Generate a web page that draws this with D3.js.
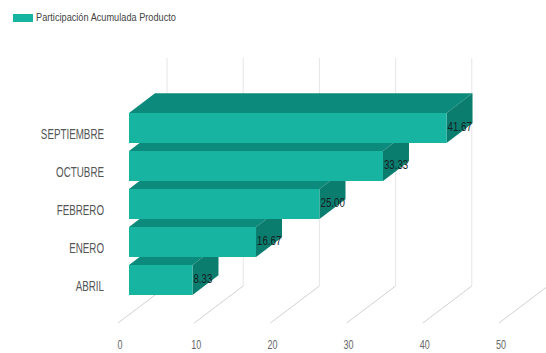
<!DOCTYPE html>
<html>
<head>
<meta charset="utf-8">
<script src="https://cdn.jsdelivr.net/npm/d3@7/dist/d3.min.js"></script>
<style>
  html, body { margin: 0; padding: 0; background: #fff; }
  svg { display: block; }
  text { font-family: "Liberation Sans", Arial, sans-serif; }
</style>
</head>
<body>
<svg id="chart" width="546" height="353"></svg>
<script>
// Data
const categories = ["SEPTIEMBRE", "OCTUBRE", "FEBRERO", "ENERO", "ABRIL"];
const values = [41.67, 33.33, 25.00, 16.67, 8.33];
const valueLabels = ["41.67", "33.33", "25.00", "16.67", "8.33"];
const ticks = [0, 10, 20, 30, 40, 50];
const seriesName = "Participación Acumulada Producto";

const svg = d3.select("#chart");

// Colours
const cFront = "#17b4a2";
const cTop = "#0c8a7b";
const cSide = "#0a7d6f";
const cGridWall = "#e6e6e6";
const cGridFloor = "#d2d2d2";

// 3D depth: full depth vector from floor front edge to back wall
const depthDX = 49, depthDY = -37;
const barNear = 11 / 49, barFar = 37 / 49;

// Horizontal value scales at the floor front, bar front plane and back wall
const xFloor = d3.scaleLinear().domain([0, 50]).range([118, 118 + 381]);
const xBar = v => xFloor(v) + depthDX * barNear;
const xWall = v => xFloor(v) + depthDX;

const floorY = 323;
const wallBottom = floorY + depthDY;
const wallTop = 58;

// Category band scale on the bar front plane
const y = d3.scaleBand().domain(categories).range([113, 295]).paddingInner(8 / 38).paddingOuter(0);

// Condensed text: horizontal squeeze around the anchor point
function squeezed(sel, sx) {
  return sel.attr("transform", function () {
    const x = +this.getAttribute("data-x"), yy = +this.getAttribute("data-y");
    return `translate(${x},${yy}) scale(${sx},1)`;
  });
}

// Grid: back-wall lines and floor lines
const grid = svg.append("g");
grid.selectAll("path.wall").data(ticks).join("path")
  .attr("class", "wall")
  .attr("d", t => `M${xWall(t)},${wallBottom}L${xWall(t)},${wallTop}`)
  .attr("fill", "none")
  .attr("stroke", cGridWall)
  .attr("stroke-width", 1);
grid.selectAll("path.floor").data(ticks).join("path")
  .attr("class", "floor")
  .attr("d", t => `M${xFloor(t)},${floorY}L${xWall(t)},${wallBottom}`)
  .attr("fill", "none")
  .attr("stroke", cGridFloor)
  .attr("stroke-width", 1);

// Tick labels
svg.append("g").selectAll("text").data(ticks).join("text")
  .attr("data-x", t => xFloor(t) + 2)
  .attr("data-y", 346)
  .attr("text-anchor", "middle")
  .attr("dominant-baseline", "middle")
  .attr("font-size", 12)
  .attr("fill", "#666")
  .text(t => t)
  .call(squeezed, 0.75);

// Bars drawn bottom to top so upper bars cover the top faces below
const bdx = depthDX * (barFar - barNear);
const bdy = depthDY * (barFar - barNear);
const rows = categories.map((c, i) => ({ c, v: values[i], label: valueLabels[i] })).reverse();

const bars = svg.append("g").selectAll("g").data(rows).join("g");

bars.each(function (d) {
  const g = d3.select(this);
  const x0 = xBar(0), x1 = xBar(d.v);
  const y0 = y(d.c), y1 = y0 + y.bandwidth();
  // top face
  g.append("path")
    .attr("d", `M${x0},${y0}L${x0 + bdx},${y0 + bdy}L${x1 + bdx},${y0 + bdy}L${x1},${y0}Z`)
    .attr("fill", cTop);
  // right side face
  g.append("path")
    .attr("d", `M${x1},${y0}L${x1 + bdx},${y0 + bdy}L${x1 + bdx},${y1 + bdy}L${x1},${y1}Z`)
    .attr("fill", cSide);
  // front face
  g.append("rect")
    .attr("x", x0).attr("y", y0)
    .attr("width", x1 - x0).attr("height", y1 - y0)
    .attr("fill", cFront);
  // value label
  g.append("text")
    .attr("data-x", x1 + 1)
    .attr("data-y", y0 + y.bandwidth() / 2 - 1)
    .attr("dominant-baseline", "middle")
    .attr("font-size", 13.5)
    .attr("fill", "#15211f")
    .text(d.label)
    .call(squeezed, 0.72);
});

// Category labels
svg.append("g").selectAll("text").data(categories).join("text")
  .attr("data-x", 104)
  .attr("data-y", c => y(c) + y.bandwidth() / 2 + 7)
  .attr("text-anchor", "end")
  .attr("dominant-baseline", "middle")
  .attr("font-size", 14)
  .attr("fill", "#555")
  .text(c => c)
  .call(squeezed, 0.7);

// Legend
const legend = svg.append("g");
legend.append("rect")
  .attr("x", 13).attr("y", 14).attr("width", 20).attr("height", 8)
  .attr("fill", cFront);
legend.append("text")
  .attr("data-x", 36).attr("data-y", 18.5)
  .attr("dominant-baseline", "middle")
  .attr("font-size", 10)
  .attr("fill", "#444")
  .text(seriesName)
  .call(squeezed, 0.92);
</script>
</body>
</html>
